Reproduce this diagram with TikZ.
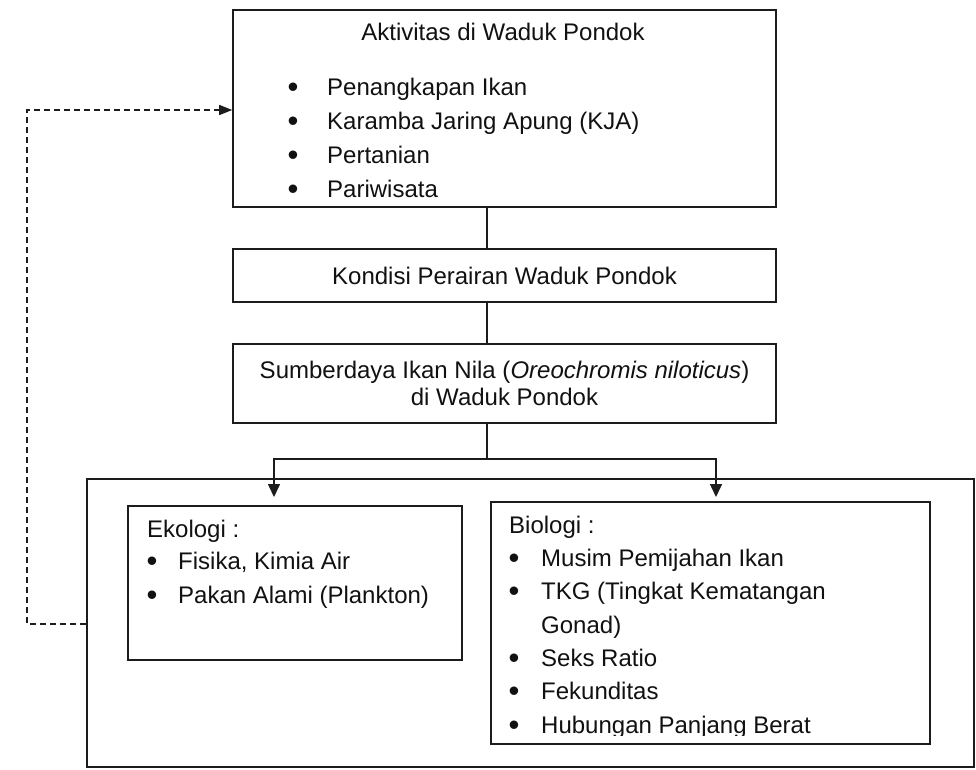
\documentclass[tikz,border=0pt]{standalone}
\usepackage{fontspec}
\setmainfont{Liberation Sans}
\usepackage{tikz}
\usetikzlibrary{positioning, arrows.meta}
\definecolor{cLine}{HTML}{1C1C1C}
\definecolor{cText}{HTML}{111111}

\begin{document}
\begin{tikzpicture}[x=1pt, y=-1pt,
    box/.style={draw=cLine, line width=1.6pt, inner sep=0pt},
    txt/.style={font=\fontsize{24}{27.6}\selectfont, text=cText, inner sep=0pt, anchor=base west},
    dot/.style={font=\fontsize{31}{31}\selectfont, text=cText, inner sep=0pt, anchor=base, yshift=-2pt},
    link/.style={draw=cLine, line width=1.5pt},
    arr/.style={link, -{Triangle[length=13pt, width=12pt]}},
    back/.style={draw=cLine, line width=1.3pt, dash pattern=on 6pt off 4pt,
      -{Triangle[length=13pt, width=10pt]}},
  ]
  \fill[white] (0,0) rectangle (976,769);
  \useasboundingbox (0,0) rectangle (976,769);

  % main chain
  \node[box, minimum width=543pt, minimum height=197pt] (aktivitas) at (504.5,108.5) {};
  \node[box, minimum width=543pt, minimum height=53pt,
        font=\fontsize{24}{27.6}\selectfont, text=cText] (kondisi) at (504.5,275.5)
        {Kondisi Perairan Waduk Pondok};
  \node[box, minimum width=543pt, minimum height=79pt, align=center,
        font=\fontsize{24}{27.6}\selectfont, text=cText] (sumber) at (504.5,383.5)
        {Sumberdaya Ikan Nila (\textit{Oreochromis niloticus})\\di Waduk Pondok};

  \node[txt, anchor=base] (aktTitle) at (503,40) {Aktivitas di Waduk Pondok};
  \foreach \lbl [count=\i] in {Penangkapan Ikan, Karamba Jaring Apung (KJA), Pertanian, Pariwisata} {
    \node[dot] (aktDot\i) at (293,{95+34*(\i-1)}) {\textbullet};
    \node[txt] (aktItem\i) at (327,{95+34*(\i-1)}) {\lbl};
  }

  % bottom group
  \node[box, minimum width=887pt, minimum height=288pt] (kajian) at (530.5,623) {};
  \node[box, minimum width=334pt, minimum height=154pt] (ekologi) at (295,583) {};
  \node[box, minimum width=439pt, minimum height=242pt] (biologi) at (710.5,623) {};

  \node[txt] (ekoTitle) at (147,537) {Ekologi :};
  \foreach \lbl [count=\i] in {{Fisika, Kimia Air}, Pakan Alami (Plankton)} {
    \node[dot] (ekoDot\i) at (152,{569+34.5*(\i-1)}) {\textbullet};
    \node[txt] (ekoItem\i) at (178,{569+34.5*(\i-1)}) {\lbl};
  }

  \node[txt] (bioTitle) at (509,533) {Biologi :};
  \node[dot] (bioDot1) at (514,566) {\textbullet};
  \node[txt] (bioItem1) at (541,566) {Musim Pemijahan Ikan};
  \node[dot] (bioDot2) at (514,599.5) {\textbullet};
  \node[txt] (bioItem2) at (541,599.5) {TKG (Tingkat Kematangan};
  \node[txt] (bioItem2b) at (541,633) {Gonad)};
  \node[dot] (bioDot3) at (514,666) {\textbullet};
  \node[txt] (bioItem3) at (541,666) {Seks Ratio};
  \node[dot] (bioDot4) at (514,699.5) {\textbullet};
  \node[txt] (bioItem4) at (541,699.5) {Fekunditas};
  \begin{scope}
    \clip (495,705) rectangle (925,735.5);
    \node[dot] (bioDot5) at (514,733) {\textbullet};
    \node[txt] (bioItem5) at (541,733) {Hubungan Panjang Berat};
  \end{scope}

  % connectors
  \coordinate (split) at (487,459);
  \coordinate (ekoIn) at (274,497);
  \coordinate (bioIn) at (716,497);
  \draw[link] (aktivitas.south -| split) -- (kondisi.north -| split);
  \draw[link] (kondisi.south -| split) -- (sumber.north -| split);
  \draw[link] (sumber.south -| split) -- (split);
  \draw[arr] (split) -| (ekoIn);
  \draw[arr] (split) -| (bioIn);

  % feedback loop
  \coordinate (loopLow) at (27,624);
  \coordinate (loopHigh) at (27,110);
  \draw[back] (kajian.west |- loopLow) -- (loopLow) -- (loopHigh) -- (aktivitas.west |- loopHigh);
\end{tikzpicture}
\end{document}
